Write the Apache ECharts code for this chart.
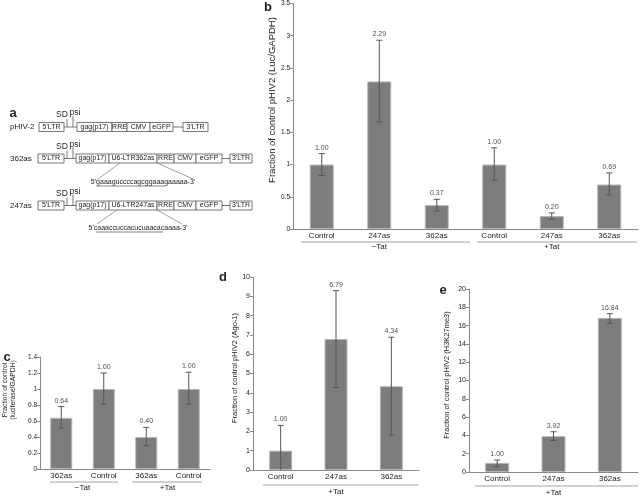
<!DOCTYPE html>
<html lang="en">
<head>
<meta charset="UTF-8" />
<title>pHIV2 antisense panels</title>
<script src="https://cdn.jsdelivr.net/npm/echarts@6/dist/echarts.min.js"></script>
<style>
* { margin: 0; padding: 0; }
body { background: #fff; }
#chart { width: 640px; height: 497px; }
</style>
</head>
<body>
<div id="chart"></div>
<script>
// panel b: Luc/GAPDH
const bCats = ['Control', '247as', '362as', 'Control', '247as', '362as'];
const bVals = [1.00, 2.29, 0.37, 1.00, 0.20, 0.69];
const bLow = [0.83, 1.66, 0.28, 0.76, 0.15, 0.53];
const bHigh = [1.17, 2.93, 0.46, 1.26, 0.25, 0.87];
const bGroups = ['\u2212Tat', '+Tat'];

// panel c: luciferase/GAPDH
const cCats = ['362as', 'Control', '362as', 'Control'];
const cVals = [0.64, 1.00, 0.40, 1.00];
const cLow = [0.51, 0.81, 0.29, 0.81];
const cHigh = [0.78, 1.20, 0.52, 1.21];
const cGroups = ['\u2212Tat', '+Tat'];

// panel d: Ago-1
const dCats = ['Control', '247as', '362as'];
const dVals = [1.00, 6.79, 4.34];
const dLow = [-0.31, 4.27, 1.81];
const dHigh = [2.31, 9.29, 6.88];
const dGroups = ['+Tat'];

// panel e: H3K27me3
const eCats = ['Control', '247as', '362as'];
const eVals = [1.00, 3.92, 16.84];
const eLow = [0.58, 3.45, 16.25];
const eHigh = [1.30, 4.40, 17.30];
const eGroups = ['+Tat'];

const FONT = '"Liberation Sans", Arial, sans-serif';
const AXIS = '#8a8a8a';
const TXT = '#222';
const BAR = '#7d7d7d';

const grids = [], xAxes = [], yAxes = [], series = [];

function errorBar(params, api) {
    const x = api.value(0);
    const lo = api.value(1);
    const top = api.coord([x, api.value(2)]);
    const bot = api.coord([x, Math.max(lo, 0)]);
    const st = { stroke: '#555', lineWidth: 1 };
    const kids = [
        { type: 'line', shape: { x1: top[0], y1: top[1], x2: bot[0], y2: bot[1] }, style: st },
        { type: 'line', shape: { x1: top[0] - 3, y1: top[1], x2: top[0] + 3, y2: top[1] }, style: st }
    ];
    if (lo > 0) {
        kids.push({ type: 'line', shape: { x1: bot[0] - 3, y1: bot[1], x2: bot[0] + 3, y2: bot[1] }, style: st });
    }
    return { type: 'group', children: kids };
}

function addPanel(box, cats, vals, lo, hi, yMax, yStep, groups, groupOffset, barW, tickFont) {
    const gi = grids.length;
    const xi = xAxes.length;
    grids.push({ left: box[0], top: box[1], width: box[2], height: box[3] });
    xAxes.push({
        type: 'category', gridIndex: gi, data: cats,
        axisLine: { lineStyle: { color: AXIS } },
        axisTick: { length: 3, lineStyle: { color: AXIS } },
        axisLabel: { fontSize: 8, color: TXT, margin: 3, interval: 0 }
    });
    xAxes.push({
        type: 'category', gridIndex: gi, position: 'bottom', offset: groupOffset, data: groups,
        axisLine: { show: false }, axisTick: { show: false },
        axisLabel: { fontSize: 8, color: TXT, margin: 0, interval: 0 }
    });
    yAxes.push({
        type: 'value', gridIndex: gi, min: 0, max: yMax, interval: yStep,
        axisLine: { show: true, lineStyle: { color: AXIS } },
        axisTick: { show: true, length: 3, lineStyle: { color: AXIS } },
        splitLine: { show: false },
        axisLabel: { fontSize: tickFont, color: TXT, margin: 3 }
    });
    series.push({
        type: 'bar', xAxisIndex: xi, yAxisIndex: gi, data: vals, barWidth: barW, silent: true,
        itemStyle: { color: BAR, borderColor: '#b5b5b5', borderWidth: 1 }
    });
    series.push({
        type: 'custom', xAxisIndex: xi, yAxisIndex: gi, renderItem: errorBar, silent: true, z: 3,
        encode: { x: 0, y: [1, 2] },
        data: cats.map((c, i) => [i, lo[i], hi[i]])
    });
    series.push({
        type: 'scatter', xAxisIndex: xi, yAxisIndex: gi, symbolSize: 1, silent: true, z: 4,
        itemStyle: { color: 'rgba(0,0,0,0)' },
        data: cats.map((c, i) => [i, hi[i], vals[i]]),
        label: { show: true, position: 'top', distance: 2, fontSize: 7, color: TXT,
                 formatter: q => q.value[2].toFixed(2) }
    });
}

addPanel([293, 3, 345, 226], bCats, bVals, bLow, bHigh, 3.5, 0.5, bGroups, 14, 24, 6.5);
addPanel([40, 357, 170, 112], cCats, cVals, cLow, cHigh, 1.4, 0.2, cGroups, 15, 22, 6.5);
addPanel([253, 277, 166, 193], dCats, dVals, dLow, dHigh, 10, 1, dGroups, 18, 23, 7);
addPanel([469, 289, 169, 183], eCats, eVals, eLow, eHigh, 20, 2, eGroups, 17, 24, 7);

// ---- graphic helpers ----
function txt(s, x, y, size, opts) {
    opts = opts || {};
    const al = opts.align || 'center';
    return {
        type: 'text', x: x, y: y, rotation: opts.rot || 0,
        style: {
            text: s, font: (opts.bold ? 'bold ' : '') + size + 'px ' + FONT,
            fill: TXT, textFill: TXT,
            align: al, textAlign: al, verticalAlign: 'middle', textVerticalAlign: 'middle'
        }
    };
}
function ln(x1, y1, x2, y2, color) {
    return { type: 'line', shape: { x1: x1, y1: y1, x2: x2, y2: y2 },
             style: { stroke: color || '#555', lineWidth: 0.8 } };
}

const g = [];

// panel a: vector maps
function construct(yc, name, parts) {
    g.push(txt(name, 10, yc, 8, { align: 'left' }));
    g.push(ln(parts[0][2], yc, parts[parts.length - 1][1], yc));
    g.push(ln(67, yc, 67, yc - 8));
    g.push(ln(73, yc, 73, yc - 11));
    g.push(txt('SD', 62, yc - 12, 8.5));
    g.push(txt('psi', 75, yc - 14, 8.5));
    parts.forEach(p => {
        g.push({ type: 'rect', shape: { x: p[1], y: yc - 4.5, width: p[2] - p[1], height: 9 },
                 style: { fill: '#fff', stroke: '#555', lineWidth: 0.8 } });
        g.push(txt(p[0], (p[1] + p[2]) / 2, yc, 7));
    });
}
construct(127, 'pHIV-2', [["5'LTR", 39, 64], ['gag(p17)', 77, 112], ['RRE', 112, 127],
    ['CMV', 127, 150], ['eGFP', 150, 173], ["3'LTR", 183, 208]]);
construct(158.5, '362as', [["5'LTR", 38, 64], ['gag(p17)', 76, 109], ['U6-LTR362as', 109, 157],
    ['RRE', 157, 174], ['CMV', 174, 196], ['eGFP', 196, 222], ["3'LTR", 230, 252]]);
construct(205.5, '247as', [["5'LTR", 38, 64], ['gag(p17)', 76, 109], ['U6-LTR247as', 109, 157],
    ['RRE', 157, 174], ['CMV', 174, 196], ['eGFP', 196, 222], ["3'LTR", 230, 252]]);

g.push(ln(120, 163, 98, 179, '#888'), ln(157, 163, 193, 179, '#888'));
g.push(txt("5'gaaaguccccagcggaaagaaaaa-3'", 143, 182, 7));
g.push(ln(97, 186, 165, 186, '#666'));
g.push(ln(117, 210, 97, 224, '#888'), ln(157, 210, 182, 224, '#888'));
g.push(txt("5'caaaccuccacucuaacacaaaa-3'", 138, 228, 7));
g.push(ln(96, 232, 163, 232, '#666'));

// panel letters
g.push(txt('a', 13, 113, 13, { bold: true }));
g.push(txt('b', 268, 7, 13, { bold: true }));
g.push(txt('c', 7, 357, 13, { bold: true }));
g.push(txt('d', 223, 277, 13, { bold: true }));
g.push(txt('e', 443, 290, 13, { bold: true }));

// y-axis titles
const R = Math.PI / 2;
g.push(txt('Fraction of control pHIV2 (Luc/GAPDH)', 272, 100, 9.5, { rot: R }));
g.push(txt('Fraction of control', 5, 390, 6.8, { rot: R }));
g.push(txt('(luciferase/GAPDH)', 13, 390, 6.8, { rot: R }));
g.push(txt('Fraction of control pHIV2 (Ago-1)', 235, 368, 7.5, { rot: R }));
g.push(txt('Fraction of control pHIV2 (H3K27me3)', 447, 375, 7.5, { rot: R }));

// group brackets under category labels
g.push(ln(301, 242, 470, 242, AXIS), ln(477, 242, 637, 242, AXIS));
g.push(ln(50, 482, 118, 482, AXIS), ln(132, 482, 202, 482, AXIS));
g.push(ln(263, 485, 419, 485, AXIS));
g.push(ln(475, 486, 638, 486, AXIS));

const chart = echarts.init(document.getElementById('chart'));
chart.setOption({
    animation: false,
    textStyle: { fontFamily: FONT },
    grid: grids,
    xAxis: xAxes,
    yAxis: yAxes,
    series: series,
    graphic: { elements: g }
});
</script>
</body>
</html>
